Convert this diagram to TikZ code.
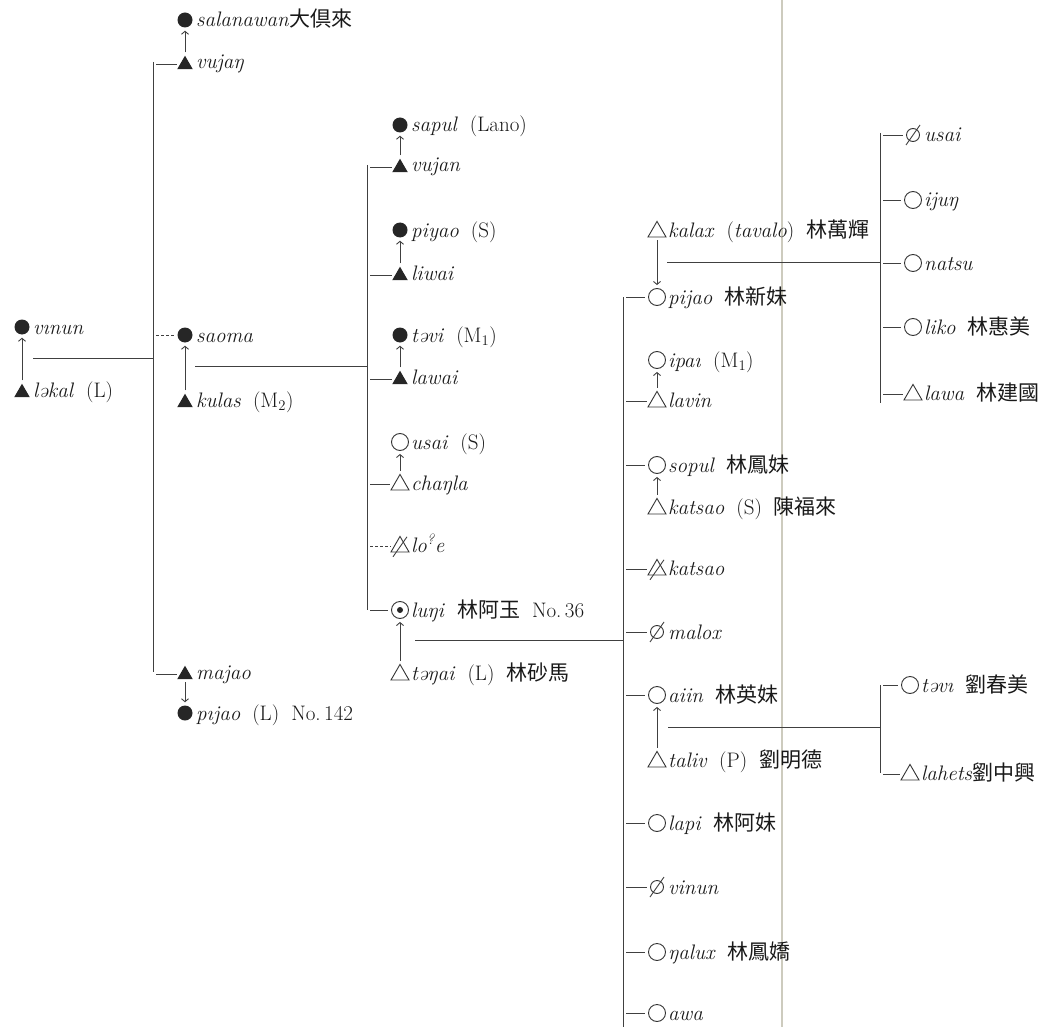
\documentclass[tikz,border=0pt]{standalone}
\usepackage{fontspec}
\newfontfamily\cjk{Noto Sans CJK TC}
\usetikzlibrary{shapes.geometric,arrows.meta}
\newcommand{\nm}[1]{\textit{#1}}
\newcommand{\hz}[1]{{\cjk\fontsize{21}{24}\selectfont #1}}
\newcommand{\gap}{\hspace{12pt}}
\newcommand{\who}[5]{%
  \node[#2] (#1) at (#3,#4) {};
  \node[lbl] (#1-t) at (#3+11,#4+7) {#5};}
\newcommand{\slashit}[1]{%
  \draw[line] ([shift={(-7,10)}]#1.center) -- ([shift={(7,-10)}]#1.center);}
\begin{document}
\begin{tikzpicture}[x=1pt,y=-1pt,
  line/.style={draw=black!75, line width=0.9pt},
  fc/.style={circle, fill=black!85, minimum size=15pt, inner sep=0pt},
  oc/.style={circle, draw=black!80, line width=0.9pt, minimum size=17pt, inner sep=0pt},
  dc/.style={oc, path picture={\fill[black!85] (path picture bounding box.center) circle (3pt);}},
  xc/.style={oc, minimum size=13pt},
  ft/.style={regular polygon, regular polygon sides=3, fill=black!85, minimum size=18pt, inner sep=0pt, yshift=-2.7pt},
  ot/.style={regular polygon, regular polygon sides=3, draw=black!80, line width=0.9pt, minimum size=20.8pt, inner sep=0pt, yshift=-1.8pt},
  xt/.style={ot},
  lbl/.style={anchor=base west, inner sep=0pt, font=\fontsize{21}{25}\selectfont, text=black!90},
  marry/.style={line, -{Straight Barb[length=3pt,width=7pt]}, shorten >=3pt, shorten <=3pt},
  tick/.style={line, shorten <=3pt, shorten >=3pt},
  dtick/.style={tick, dash pattern=on 3pt off 2pt},
]
\useasboundingbox (0,0) rectangle (1060,1027);
% page crease
\draw[draw={rgb,255:red,205;green,203;blue,190}, line width=2.5pt] (782,0) -- (782,1027);

% generation 0
\who{A1}{fc}{22}{327}{\nm{vınun}}
\who{A2}{ft}{22}{390}{\nm{ləkal}\gap(L)}
\draw[marry] (A2) -- (A1);
\coordinate (K0) at (33,358);

% bar 1
\coordinate (B1a) at (153,62);
\coordinate (B1b) at (153,672);
\draw[line] (B1a) -- (B1b);
\draw[line] (K0) -- (B1a |- K0);

\who{C1}{ft}{185}{62}{\nm{vujaŋ}}
\who{W1}{fc}{185}{20}{\nm{salanawan}\hz{大倶來}}
\draw[marry] (C1) -- (W1);
\draw[tick] (B1a |- C1) -- (C1);

\who{C2}{fc}{185}{335}{\nm{saoma}}
\who{H2}{ft}{185}{400}{\nm{kulas}\gap(M\textsubscript{2})}
\draw[marry] (H2) -- (C2);
\draw[dtick] (B1a |- C2) -- (C2);
\coordinate (K1) at (195,366);

\who{C3}{ft}{185}{672}{\nm{majao}}
\who{W3}{fc}{185}{713}{\nm{pıjao}\gap(L)\gap No.\,142}
\draw[marry] (C3) -- (W3);
\draw[tick] (B1a |- C3) -- (C3);

% bar 2
\coordinate (B2a) at (367,165);
\coordinate (B2b) at (367,610);
\draw[line] (B2a) -- (B2b);
\draw[line] (K1) -- (B2a |- K1);

\who{D1}{ft}{400}{165}{\nm{vujan}}
\who{V1}{fc}{400}{125}{\nm{sapul}\gap(Lano)}
\draw[marry] (D1) -- (V1);
\draw[tick] (B2a |- D1) -- (D1);

\who{D2}{ft}{400}{273}{\nm{liwai}}
\who{V2}{fc}{400}{230}{\nm{piyao}\gap(S)}
\draw[marry] (D2) -- (V2);
\draw[tick] (B2a |- D2) -- (D2);

\who{D3}{ft}{400}{377}{\nm{lawai}}
\who{V3}{fc}{400}{335}{\nm{təvi}\gap(M\textsubscript{1})}
\draw[marry] (D3) -- (V3);
\draw[tick] (B2a |- D3) -- (D3);

\who{D4}{ot}{400}{483}{\nm{chaŋla}}
\who{V4}{oc}{400}{442}{\nm{usai}\gap(S)}
\draw[marry] (D4) -- (V4);
\draw[tick] (B2a |- D4) -- (D4);

\who{D5}{xt}{400}{545}{\nm{lo\textsuperscript{?}e}}
\slashit{D5}
\draw[dtick] (B2a |- D5) -- (D5);

\who{D6}{dc}{400}{610}{\nm{luŋi}\gap\hz{林阿玉}\gap No.\,36}
\who{V6}{ot}{400}{673}{\nm{təŋai}\gap(L)\gap\hz{林砂馬}}
\draw[marry] (V6) -- (D6);
\draw[tick] (B2a |- D6) -- (D6);
\coordinate (K2) at (415,640);

% bar 3
\coordinate (B3a) at (623,297);
\coordinate (B3b) at (623,1027);
\draw[line] (B3a) -- (B3b);
\draw[line] (K2) -- (B3a |- K2);

\who{E1}{oc}{657}{297}{\nm{pijao}\gap\hz{林新妹}}
\who{U1}{ot}{657}{230}{\nm{kalax}\gap(\nm{tavalo})\gap\hz{林萬輝}}
\draw[marry] (U1) -- (E1);
\draw[tick] (B3a |- E1) -- (E1);
\coordinate (K3) at (667,262);

\who{E2}{ot}{657}{400}{\nm{lavin}}
\who{U2}{oc}{657}{360}{\nm{ipaı}\gap(M\textsubscript{1})}
\draw[marry] (E2) -- (U2);
\draw[tick] (B3a |- E2) -- (E2);

\who{E3}{oc}{657}{465}{\nm{sopul}\gap\hz{林鳳妹}}
\who{U3}{ot}{657}{507}{\nm{katsao}\gap(S)\gap\hz{陳福來}}
\draw[marry] (U3) -- (E3);
\draw[tick] (B3a |- E3) -- (E3);

\who{E4}{xt}{657}{568}{\nm{katsao}}
\slashit{E4}
\draw[tick] (B3a |- E4) -- (E4);

\who{E5}{xc}{657}{632}{\nm{malox}}
\slashit{E5}
\draw[tick] (B3a |- E5) -- (E5);

\who{E6}{oc}{657}{695}{\nm{aiin}\gap\hz{林英妹}}
\who{U6}{ot}{657}{760}{\nm{taliv}\gap(P)\gap\hz{劉明德}}
\draw[marry] (U6) -- (E6);
\draw[tick] (B3a |- E6) -- (E6);
\coordinate (K4) at (668,727);

\who{E7}{oc}{657}{823}{\nm{lapi}\gap\hz{林阿妹}}
\draw[tick] (B3a |- E7) -- (E7);

\who{E8}{xc}{657}{887}{\nm{vinun}}
\slashit{E8}
\draw[tick] (B3a |- E8) -- (E8);

\who{E9}{oc}{657}{952}{\nm{ŋalux}\gap\hz{林鳳嬌}}
\draw[tick] (B3a |- E9) -- (E9);

\who{E10}{oc}{657}{1013}{\nm{awa}}
\draw[tick] (B3a |- E10) -- (E10);

% bar 4
\coordinate (B4a) at (880,133);
\coordinate (B4b) at (880,403);
\draw[line] (B4a) -- (B4b);
\draw[line] (K3) -- (B4a |- K3);

\who{F1}{xc}{913}{135}{\nm{usai}}
\slashit{F1}
\draw[tick] (B4a |- F1) -- (F1);
\who{F2}{oc}{913}{200}{\nm{ijuŋ}}
\draw[tick] (B4a |- F2) -- (F2);
\who{F3}{oc}{913}{263}{\nm{natsu}}
\draw[tick] (B4a |- F3) -- (F3);
\who{F4}{oc}{913}{327}{\nm{liko}\gap\hz{林惠美}}
\draw[tick] (B4a |- F4) -- (F4);
\who{F5}{ot}{913}{393}{\nm{lawa}\gap\hz{林建國}}
\draw[tick] (B4a |- F5) -- (F5);

% bar 5
\coordinate (B5a) at (880,685);
\coordinate (B5b) at (880,773);
\draw[line] (B5a) -- (B5b);
\draw[line] (K4) -- (B5a |- K4);

\who{G1}{oc}{910}{685}{\nm{təvı}\gap\hz{劉春美}}
\draw[tick] (B5a |- G1) -- (G1);
\who{G2}{ot}{910}{773}{\nm{lahets}\hz{劉中興}}
\draw[tick] (B5a |- G2) -- (G2);
\end{tikzpicture}
\end{document}
